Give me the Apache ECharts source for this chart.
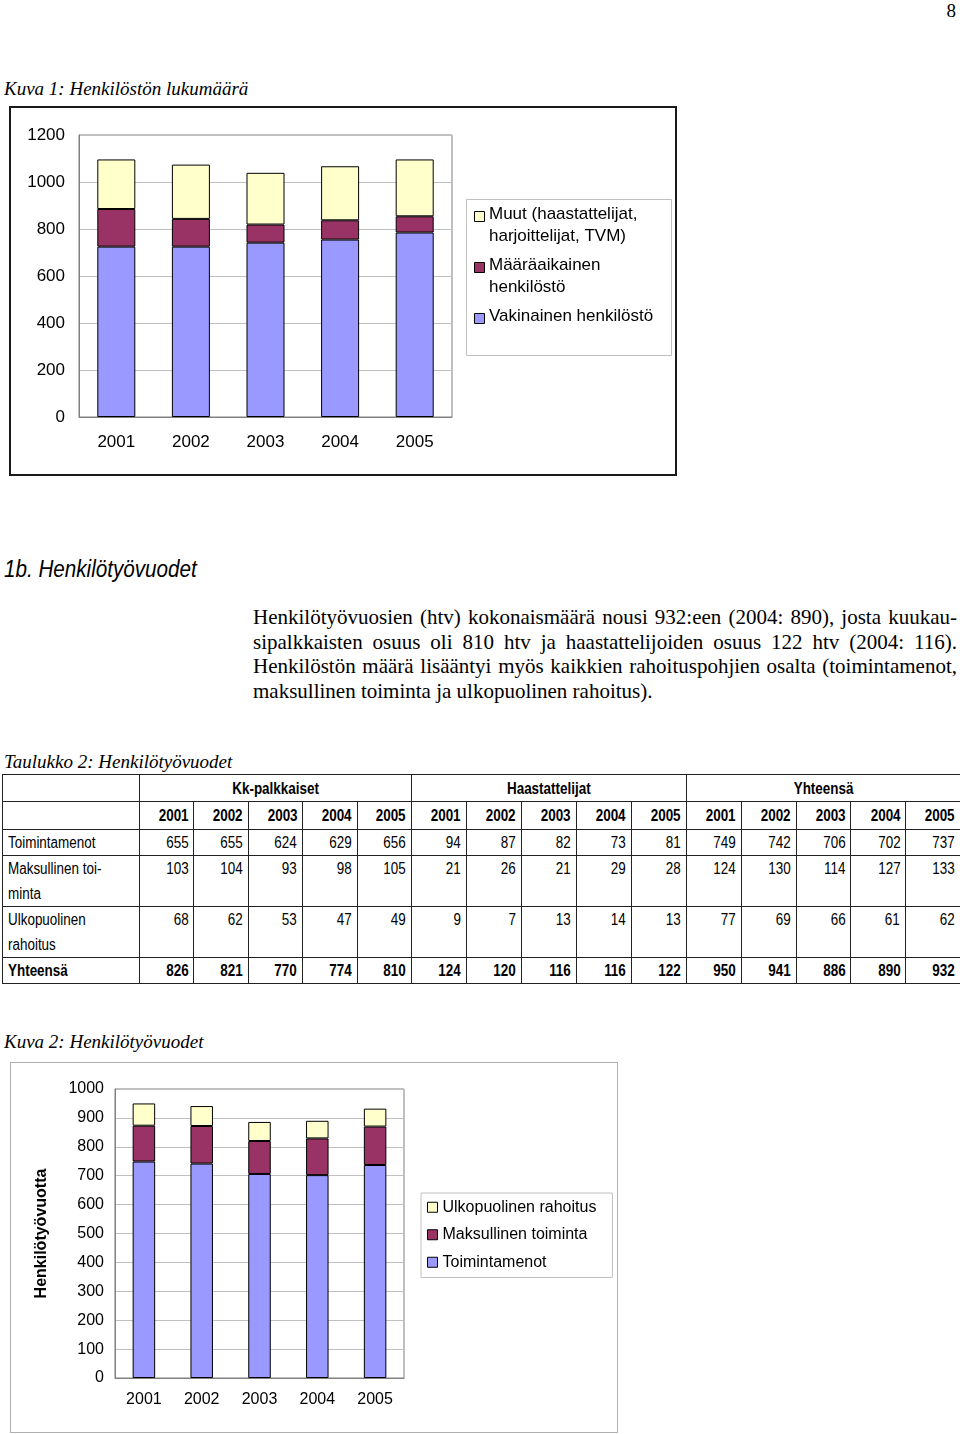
<!DOCTYPE html>
<html><head><meta charset="utf-8">
<script src="https://cdn.jsdelivr.net/npm/echarts@6/dist/echarts.min.js"></script>
<style>
html,body{margin:0;padding:0;background:#fff;}
body{width:960px;height:1434px;position:relative;overflow:hidden;font-family:"Liberation Serif","Times New Roman",serif;color:#000;}
.abs{position:absolute;}
.cap{font-family:"Liberation Serif",serif;font-style:italic;font-size:19px;left:4px;white-space:nowrap;}
.para{left:253px;width:704px;font-size:21px;line-height:24.5px;}
.para div{text-align:justify;text-align-last:justify;white-space:nowrap;}
.para div.last{text-align-last:left;}
table{border-collapse:collapse;font-family:"Liberation Sans",Arial,sans-serif;font-size:16px;}
td{border:1.5px solid #222;padding:0 5px;text-align:right;vertical-align:top;line-height:25px;overflow:visible;white-space:nowrap;}
td span{display:inline-block;transform:scaleX(0.84);transform-origin:right center;}
td.lab span{transform-origin:left center;}
td.lab{text-align:left;}
.hd td{font-weight:bold;text-align:center;vertical-align:middle;}
.hd td span{transform-origin:center center;}
.yr td{font-weight:bold;vertical-align:middle;}
tr.tot td{font-weight:bold;}
</style></head>
<body>
<div class="abs" style="right:4px;top:0px;font-size:19px;">8</div>
<div class="abs cap" style="top:78px;">Kuva 1: Henkilöstön lukumäärä</div>
<div id="c1" class="abs" style="left:9px;top:106px;width:668px;height:370px;"></div>
<div class="abs" style="left:9px;top:106px;width:668px;height:370px;box-sizing:border-box;border:2px solid #1a1a1a;pointer-events:none;"></div>
<div class="abs" style="left:4px;top:555px;font-family:'Liberation Sans',sans-serif;font-style:italic;font-size:24px;white-space:nowrap;transform:scaleX(0.86);transform-origin:left top;">1b. Henkilötyövuodet</div>
<div class="abs para" style="top:605px;">
<div>Henkilötyövuosien (htv) kokonaismäärä nousi 932:een (2004: 890), josta kuukau-</div>
<div>sipalkkaisten osuus oli 810 htv ja haastattelijoiden osuus 122 htv (2004: 116).</div>
<div>Henkilöstön määrä lisääntyi myös kaikkien rahoituspohjien osalta (toimintamenot,</div>
<div class="last">maksullinen toiminta ja ulkopuolinen rahoitus).</div>
</div>
<div class="abs cap" style="top:751px;">Taulukko 2: Henkilötyövuodet</div>
<div id="tbl" class="abs" style="left:2px;top:774px;"></div>
<div class="abs cap" style="top:1031px;">Kuva 2: Henkilötyövuodet</div>
<div id="c2" class="abs" style="left:10px;top:1062px;width:608px;height:371px;"></div>
<div class="abs" style="left:10px;top:1062px;width:608px;height:371px;box-sizing:border-box;border:1px solid #b0b0b0;pointer-events:none;"></div>
<script>
// ---- data ----
const years = ['2001','2002','2003','2004','2005'];
// Kuva 1: Henkilöstön lukumäärä
const staffPermanent = [725, 725, 742, 755, 785];
const staffFixedTerm = [160, 118, 77, 82, 69];
const staffOther = [211, 231, 220, 230, 242];
const staffNames = ['Vakinainen henkilöstö', 'Määräaikainen henkilöstö', 'Muut (haastattelijat, harjoittelijat, TVM)'];
const staffLegendText = ['Vakinainen henkilöstö', 'Määräaikainen\nhenkilöstö', 'Muut (haastattelijat,\nharjoittelijat, TVM)'];
// Taulukko 2: Henkilötyövuodet
const rowLabels = ['Toimintamenot', 'Maksullinen toi-\nminta', 'Ulkopuolinen\nrahoitus', 'Yhteensä'];
const groupLabels = ['Kk-palkkaiset', 'Haastattelijat', 'Yhteensä'];
const kkToim = [655, 655, 624, 629, 656];
const kkMaks = [103, 104, 93, 98, 105];
const kkUlko = [68, 62, 53, 47, 49];
const kkTot = [826, 821, 770, 774, 810];
const haToim = [94, 87, 82, 73, 81];
const haMaks = [21, 26, 21, 29, 28];
const haUlko = [9, 7, 13, 14, 13];
const haTot = [124, 120, 116, 116, 122];
const yhToim = [749, 742, 706, 702, 737];
const yhMaks = [124, 130, 114, 127, 133];
const yhUlko = [77, 69, 66, 61, 62];
const yhTot = [950, 941, 886, 890, 932];
const fundNames = ['Toimintamenot', 'Maksullinen toiminta', 'Ulkopuolinen rahoitus'];
const colors = ['#9999FF', '#993366', '#FFFFCC'];

// ---- table ----
(function(){
  const colW = [137, 54.4,54.4,54.4,54.4,54.4, 55,55,55,55,55, 54.8,54.8,54.8,54.8,54.8];
  const rows = [
    [kkToim, haToim, yhToim],
    [kkMaks, haMaks, yhMaks],
    [kkUlko, haUlko, yhUlko],
    [kkTot, haTot, yhTot]
  ];
  const rh = [26, 51, 51, 26];
  const sp = t => '<span>' + t + '</span>';
  let h = '<table style="width:958px;table-layout:fixed;"><colgroup>' + colW.map(w=>'<col style="width:'+w+'px">').join('') + '</colgroup>';
  h += '<tr class="hd" style="height:27px;"><td></td>' + groupLabels.map(g=>'<td colspan="5">'+sp(g)+'</td>').join('') + '</tr>';
  h += '<tr class="yr" style="height:28px;"><td></td>' + [0,1,2].map(()=>years.map(y=>'<td>'+sp(y)+'</td>').join('')).join('') + '</tr>';
  rows.forEach((r,i)=>{
    h += '<tr'+(i===3?' class="tot"':'')+' style="height:'+rh[i]+'px;"><td class="lab">'+rowLabels[i].split('\n').map(sp).join('<br>')+'</td>';
    r.forEach(arr=>arr.forEach(v=>{h+='<td>'+sp(v)+'</td>';}));
    h += '</tr>';
  });
  h += '</table>';
  document.getElementById('tbl').innerHTML = h;
})();

const font = '"Liberation Sans", Arial, sans-serif';

// ---- chart 1 ----
const c1 = echarts.init(document.getElementById('c1'), null, {renderer:'canvas'});
// legend drawn as graphic (multi-line entries, top to bottom: Muut, Määräaikainen, Vakinainen)
const legendTops1 = [97, 148, 199];
const legendGraphic1 = [{type:'rect', left:457, top:93, shape:{width:205, height:156}, style:{fill:'#fff', stroke:'#c0c0c0', lineWidth:1}, z:-1}];
[2,1,0].forEach((si, k)=>{
  legendGraphic1.push({type:'rect', left:465, top:legendTops1[k]+8, shape:{width:10, height:10}, style:{fill:colors[si], stroke:'#000', lineWidth:1}});
  legendGraphic1.push({type:'text', left:480, top:legendTops1[k], style:{text:staffLegendText[si], font:'17px ' + font, lineHeight:22, fill:'#000'}});
});
c1.setOption({
  animation:false,
  textStyle:{fontFamily:font},
  grid:{left:70, top:29, width:373, height:282, show:true, borderColor:'#808080', borderWidth:1, containLabel:false},
  xAxis:{type:'category', data:years,
    axisLine:{lineStyle:{color:'#808080'}},
    axisTick:{lineStyle:{color:'#808080'}, length:5},
    axisLabel:{color:'#000', fontSize:17, margin:17, fontFamily:font}},
  yAxis:{type:'value', min:0, max:1200, interval:200,
    axisLine:{show:true, lineStyle:{color:'#808080'}},
    axisTick:{show:false},
    splitLine:{lineStyle:{color:'#c0c0c0'}},
    axisLabel:{color:'#000', fontSize:17, margin:14, fontFamily:font, formatter:v=>String(v)}},
  graphic:legendGraphic1,
  series:[
    {name:staffNames[0], type:'bar', stack:'s', data:staffPermanent, barWidth:38, itemStyle:{color:colors[0], borderColor:'#000', borderWidth:1}},
    {name:staffNames[1], type:'bar', stack:'s', data:staffFixedTerm, barWidth:38, itemStyle:{color:colors[1], borderColor:'#000', borderWidth:1}},
    {name:staffNames[2], type:'bar', stack:'s', data:staffOther, barWidth:38, itemStyle:{color:colors[2], borderColor:'#000', borderWidth:1}}
  ]
});

// ---- chart 2 ----
const c2 = echarts.init(document.getElementById('c2'), null, {renderer:'canvas'});
c2.setOption({
  animation:false,
  textStyle:{fontFamily:font},
  grid:{left:105, top:27, width:289, height:289, show:true, borderColor:'#808080', borderWidth:1},
  xAxis:{type:'category', data:years,
    axisLine:{lineStyle:{color:'#808080'}},
    axisTick:{lineStyle:{color:'#808080'}, length:5},
    axisLabel:{color:'#000', fontSize:16, margin:14, fontFamily:font}},
  yAxis:{type:'value', min:0, max:1000, interval:100,
    name:'Henkilötyövuotta', nameLocation:'middle', nameGap:65, nameRotate:90,
    nameTextStyle:{fontWeight:'bold', fontSize:16, color:'#000', fontFamily:font},
    axisLine:{show:true, lineStyle:{color:'#808080'}},
    axisTick:{show:false},
    splitLine:{lineStyle:{color:'#c0c0c0'}},
    axisLabel:{color:'#000', fontSize:16, margin:11, fontFamily:font, formatter:v=>String(v)}},
  legend:{orient:'vertical', left:411, top:131, padding:[5,16,6,6], itemGap:9, itemWidth:10, itemHeight:10,
    icon:'rect', selectedMode:false, borderColor:'#c0c0c0', borderWidth:1, borderRadius:0,
    itemStyle:{borderColor:'#000', borderWidth:1},
    textStyle:{fontSize:16, lineHeight:18.5, color:'#000', fontFamily:font},
    data:[fundNames[2], fundNames[1], fundNames[0]]},
  series:[
    {name:fundNames[0], type:'bar', stack:'s', data:yhToim, barWidth:22.5, itemStyle:{color:colors[0], borderColor:'#000', borderWidth:1}},
    {name:fundNames[1], type:'bar', stack:'s', data:yhMaks, barWidth:22.5, itemStyle:{color:colors[1], borderColor:'#000', borderWidth:1}},
    {name:fundNames[2], type:'bar', stack:'s', data:yhUlko, barWidth:22.5, itemStyle:{color:colors[2], borderColor:'#000', borderWidth:1}}
  ]
});
</script>
</body></html>
